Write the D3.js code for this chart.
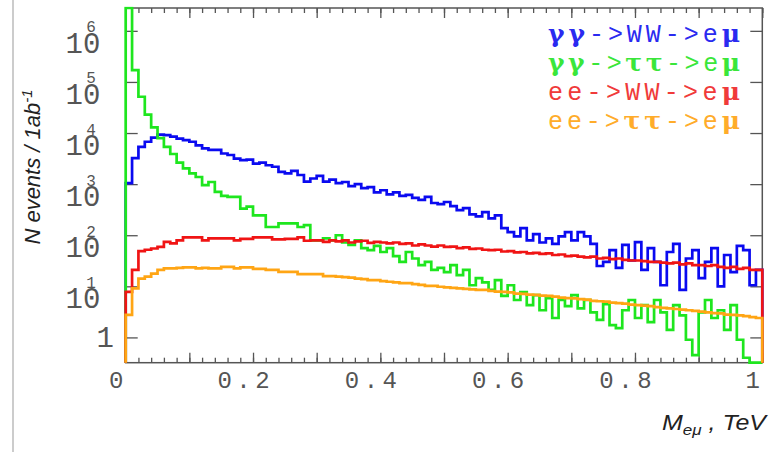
<!DOCTYPE html>
<html><head><meta charset="utf-8">
<script src="https://cdn.jsdelivr.net/npm/d3@7"></script>
<style>body{margin:0;background:#fff;} svg{display:block;}</style>
</head><body>
<svg id="chart" width="776" height="452"></svg>
<script>
// Histograms of the e-mu invariant mass, 100 bins of 0.01 TeV from 0 to 1 TeV
const binWidth = 0.01;

const gammaWW = [1050,3240,5370,6760,8130,9330,9120,8510,7760,7240,
  6760,5750,5010,4680,4680,3980,3720,3160,2950,3020,
  2510,2630,2340,2190,1740,1620,1820,1510,1120,1290,
  1450,1120,1230,1050,1100,912,1000,832,871,692,
  759,631,692,589,617,537,490,562,427,407,
  447,372,309,339,257,234,282,214,245,138,
  115,95,138,79,105,72,87,68,95,115,
  79,115,95,68,25,30,51,23,65,32,
  73,21,56,30,10.5,47,68,8.5,35,51,
  14.5,30,56,10,41,19,62,51,10.5,21];

const gammaTauTau = [5e6,170000,51300,22900,12900,7940,5370,3890,2630,2040,
  1620,1380,955,1100,708,589,562,562,331,363,
  245,245,145,145,170,170,170,145,158,79,
  79,87,79,100,72,65,79,56,51,62,
  47,56,39,30,47,35,26,30,21,23,
  19,26,16.6,21,10.5,14.5,12,8.5,13.2,6.5,
  10.5,5.4,7.7,4.3,6.7,3.4,5.9,2.4,5.4,4.1,
  6.7,3.7,5.4,3.1,2.2,4.5,1.74,1.52,3.4,5.4,
  2.4,4.3,2.0,5.4,3.1,1.4,4.3,2.7,0.9,0.45,
  3.1,5.4,2.4,3.4,1.4,4.3,0.9,0.4,0,0];

const eeWW = [7.8,21,49,52,55,59,74,69,79,91,
  91,91,79,87,87,87,87,79,85,85,
  91,91,91,83,83,85,85,91,78,79,
  79,74,79,76,79,72,76,78,71,74,
  72,69,72,68,69,63,66,63,60,63,
  59,60,56,58,54,55,52,51,52,48,
  49,46,47,44,45,43,44,41,42,39,
  40,38,37,38,35,36,34,35,33,32,
  32,31,30,30,29,28,29,27,28,26,
  26,25,26,24,23,24,22,23,21,21];

const eeTauTau = [2.75,9.1,14.1,15.5,17.8,20.9,22.4,22.4,22.9,23.4,
  23.4,22.4,22.9,22.4,22.4,24,24,22.4,23.4,23.4,
  21.9,21.9,20.9,20.9,19.1,19.1,19.1,17.4,17.4,17.4,
  17.4,15.8,15.8,15.5,15.1,14.8,14.1,13.8,13.2,13.2,
  12.6,12.3,12.0,11.5,11.5,11.0,10.7,10.2,10.2,9.8,
  9.5,9.3,9.1,8.9,8.7,8.5,8.5,8.1,7.9,7.8,
  7.6,7.2,7.1,6.9,6.8,6.6,6.5,6.3,6.0,5.9,
  5.8,5.6,5.5,5.2,5.1,5.0,4.8,4.7,4.6,4.4,
  4.3,4.2,4.1,3.9,3.8,3.7,3.6,3.5,3.4,3.3,
  3.2,3.1,3.0,2.95,2.8,2.75,2.7,2.6,2.5,2.4];

const seriesNames = ["γγ->WW->eμ", "γγ->ττ->eμ", "ee->WW->eμ", "ee->ττ->eμ"];
const seriesColors = ["#0a0af0", "#1ee61e", "#f01414", "#ffa514"];
const legendColors = ["#2a2af0", "#3ae63a", "#f03a3a", "#ffac2a"];

const xTickValues = [0, 0.2, 0.4, 0.6, 0.8, 1];
const xTickLabels = ["0", "0.2", "0.4", "0.6", "0.8", "1"];
const yTickValues = [1, 10, 100, 1e3, 1e4, 1e5, 1e6];
const yTickExponents = ["", "1", "2", "3", "4", "5", "6"];

const plot = {left: 125.7, right: 762.3, top: 8, bottom: 362.7};
const svg = d3.select("#chart");

const x = d3.scaleLinear().domain([0, 1]).range([plot.left, plot.right]);
const y = d3.scaleLog().domain([0.32, 2.8e6]).range([plot.bottom, plot.top]).clamp(true);

const axisColor = "#555";
const mono = "'Liberation Mono', 'DejaVu Sans Mono', monospace";

// page border line at the far left
svg.append("line").attr("x1", 13).attr("x2", 13).attr("y1", 0).attr("y2", 452)
  .attr("stroke", "#999").attr("stroke-width", 1);

// frame
svg.append("rect")
  .attr("x", plot.left).attr("y", plot.top)
  .attr("width", plot.right - plot.left).attr("height", plot.bottom - plot.top)
  .attr("fill", "none").attr("stroke", axisColor).attr("stroke-width", 1.5);

function styleTicks(g) {
  g.select(".domain").remove();
  g.selectAll(".tick line").attr("stroke", axisColor).attr("stroke-width", 1.3);
}

// x ticks, inside on bottom and top: minor every 0.02, longer every 0.1
[[d3.axisBottom, plot.bottom, -5, 50], [d3.axisBottom, plot.bottom, -10, 10],
 [d3.axisTop, plot.top, -5, 50], [d3.axisTop, plot.top, -10, 10]].forEach(([ax, yy, size, n]) => {
  svg.append("g").attr("transform", `translate(0,${yy})`)
    .call(ax(x).ticks(n).tickSize(size).tickFormat(""))
    .call(styleTicks);
});

// y ticks at each decade, inside on left and right
svg.append("g").attr("transform", `translate(${plot.left},0)`)
  .call(d3.axisLeft(y).tickValues(yTickValues).tickSize(-12).tickFormat(""))
  .call(styleTicks);
svg.append("g").attr("transform", `translate(${plot.right},0)`)
  .call(d3.axisRight(y).tickValues(yTickValues).tickSize(-12).tickFormat(""))
  .call(styleTicks);

// x tick labels
const xLabelSpacing = 4.5;
const xl = svg.append("g").attr("transform", `translate(0,${plot.bottom})`)
  .call(d3.axisBottom(x).tickValues(xTickValues).tickSize(0)
    .tickFormat((d, i) => xTickLabels[i]));
xl.select(".domain").remove();
xl.selectAll(".tick text")
  .attr("y", 0).attr("dy", 0)
  .attr("transform", `translate(${-10 + xLabelSpacing / 2},25.6)`)
  .attr("font-family", mono).attr("font-size", 24)
  .attr("letter-spacing", xLabelSpacing)
  .attr("fill", axisColor);

// y tick labels: powers of ten, the exponent set above the mantissa
const yl = svg.append("g");
yTickValues.forEach((v, i) => {
  const ty = y(v);
  if (yTickExponents[i] === "") {
    yl.append("text").attr("x", 114).attr("y", ty + 9.5)
      .attr("text-anchor", "end").attr("font-family", mono).attr("font-size", 29)
      .attr("fill", axisColor).text("1");
  } else {
    const t = yl.append("text").attr("x", 65.5).attr("y", ty + 22)
      .attr("font-family", mono).attr("font-size", 29)
      .attr("fill", axisColor);
    t.append("tspan").text("10");
    t.append("tspan").text(yTickExponents[i])
      .attr("font-size", 16).attr("dx", -14).attr("dy", -20.5);
  }
});

// histogram outlines
const clipId = "plotclip";
svg.append("clipPath").attr("id", clipId).append("rect")
  .attr("x", plot.left - 3).attr("y", plot.top - 1.5)
  .attr("width", plot.right - plot.left + 6).attr("height", plot.bottom - plot.top + 4);

function stepPoints(vals) {
  const pts = [[x(0), plot.bottom]];
  vals.forEach((v, i) => {
    const yy = v > 0 ? y(v) : plot.bottom;
    pts.push([x(i * binWidth), yy]);
    pts.push([x((i + 1) * binWidth), yy]);
  });
  pts.push([x(vals.length * binWidth), plot.bottom]);
  return pts;
}

const series = [gammaWW, gammaTauTau, eeWW, eeTauTau];
const lineGen = d3.line();
svg.append("g").attr("clip-path", `url(#${clipId})`)
  .selectAll("path").data(series).join("path")
  .attr("d", d => lineGen(stepPoints(d)))
  .attr("fill", "none")
  .attr("stroke", (d, i) => seriesColors[i])
  .attr("stroke-width", 2.7)
  .attr("stroke-linejoin", "miter");

// legend
const legend = svg.append("g");
seriesNames.forEach((name, i) => {
  const t = legend.append("text")
    .attr("x", 548).attr("y", 42 + i * 29)
    .attr("font-family", mono).attr("font-size", 25)
    .attr("fill", legendColors[i])
    .attr("textLength", 192).attr("lengthAdjust", "spacing");
  for (const ch of name) {
    const greek = /[γτμ]/.test(ch);
    t.append("tspan").text(ch)
      .attr("font-family", greek ? "'DejaVu Serif', serif" : null)
      .attr("font-weight", greek ? "bold" : null);
  }
});

// axis titles
const sans = "'Liberation Sans', Arial, sans-serif";
const yt = svg.append("text")
  .attr("transform", "translate(40,167) rotate(-90)")
  .attr("text-anchor", "middle").attr("font-family", sans)
  .attr("font-style", "italic").attr("font-size", 22).attr("fill", "#222");
yt.append("tspan").text("N events / 1ab");
yt.append("tspan").text("-1").attr("font-size", 15).attr("dy", -8);

const xt = svg.append("text")
  .attr("x", 662).attr("y", 430)
  .attr("font-family", sans)
  .attr("font-style", "italic").attr("font-size", 22).attr("fill", "#222")
  .attr("textLength", 104).attr("lengthAdjust", "spacingAndGlyphs");
xt.append("tspan").text("M");
xt.append("tspan").text("eμ").attr("font-size", 15).attr("dy", 5);
xt.append("tspan").text(" , TeV").attr("dy", -5);
</script>
</body></html>
